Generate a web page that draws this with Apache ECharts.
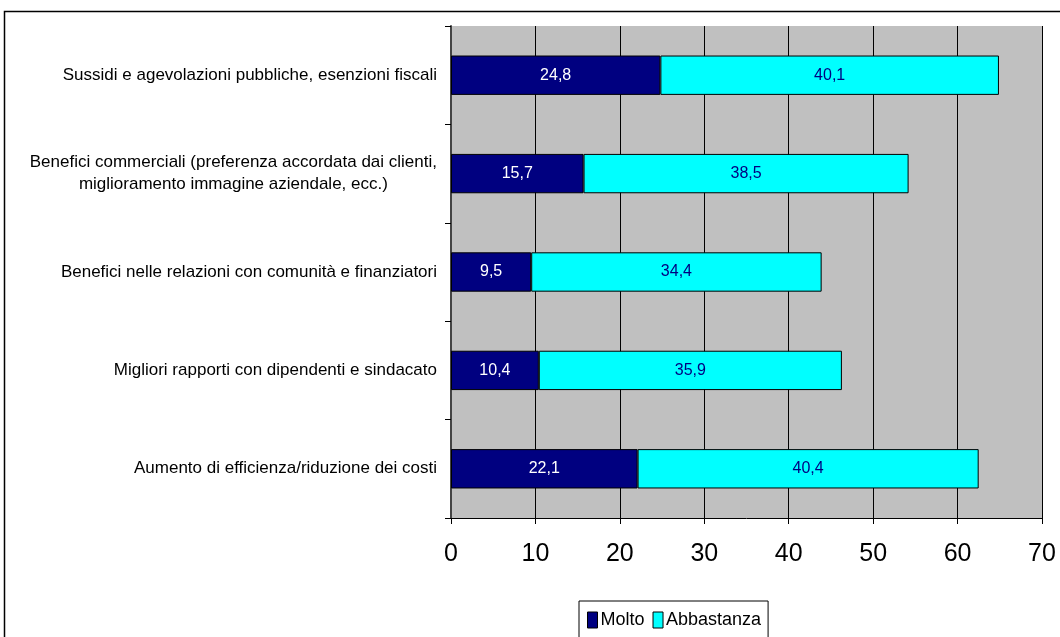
<!DOCTYPE html>
<html>
<head>
<meta charset="utf-8">
<script src="https://cdn.jsdelivr.net/npm/echarts@6/dist/echarts.min.js"></script>
<style>html,body{margin:0;padding:0;background:#fff;}#c{width:1060px;height:637px;}</style>
</head>
<body>
<div id="c"></div>
<script>
const categories = [
  "Aumento di efficienza/riduzione dei costi",
  "Migliori rapporti con dipendenti e sindacato",
  "Benefici nelle relazioni con comunità e finanziatori",
  "Benefici commerciali (preferenza accordata dai clienti,\nmiglioramento immagine aziendale, ecc.)",
  "Sussidi e agevolazioni pubbliche, esenzioni fiscali"
];
const molto = [22.1, 10.4, 9.5, 15.7, 24.8];
const abbastanza = [40.4, 35.9, 34.4, 38.5, 40.1];
const xTicks = [0, 10, 20, 30, 40, 50, 60, 70];

const fmt = v => String(v.value !== undefined ? v.value : v).replace('.', ',');
const font = '"Liberation Sans", Arial, sans-serif';

const chart = echarts.init(document.getElementById('c'));
chart.setOption({
  animation: false,
  textStyle: { fontFamily: font },
  graphic: [{
    type: 'rect', z: 100, silent: true,
    shape: { x: 4.5, y: 11.5, width: 1100, height: 700 },
    style: { fill: 'none', stroke: '#000', lineWidth: 1.5 }
  }],
  grid: { left: 451, right: 18, top: 26, bottom: 119, show: true, backgroundColor: '#C0C0C0', borderWidth: 0 },
  legend: {
    top: 601, left: 579,
    data: ['Molto', 'Abbastanza'],
    icon: 'rect',
    itemWidth: 10, itemHeight: 16, itemGap: 8,
    padding: [10, 7, 12, 8],
    borderColor: '#000', borderWidth: 1,
    textStyle: { fontSize: 18, fontFamily: font, color: '#000', padding: [0, 0, 0, -2] },
    itemStyle: { borderColor: '#000', borderWidth: 1 }
  },
  xAxis: {
    type: 'value', min: xTicks[0], max: xTicks[xTicks.length - 1], interval: 10,
    axisLine: { show: true, lineStyle: { color: '#000', width: 1 } },
    axisTick: { show: true, length: 6, lineStyle: { color: '#000' } },
    axisLabel: { fontSize: 25, color: '#000', margin: 24, fontFamily: font },
    splitLine: { show: true, lineStyle: { color: '#000', width: 1 } }
  },
  yAxis: {
    type: 'category', data: categories,
    axisLine: { show: true, lineStyle: { color: '#444', width: 2 } },
    axisTick: { show: true, length: 6, lineStyle: { color: '#000' } },
    axisLabel: {
      fontSize: 17, color: '#000', margin: 14, lineHeight: 22,
      formatter: v => v.split('\n').map(l => '{a|' + l + '}').join('\n'),
      rich: { a: { fontSize: 17, color: '#000', align: 'center', lineHeight: 22, fontFamily: font } }
    },
    splitLine: { show: false }
  },
  series: [
    {
      name: 'Molto', type: 'bar', stack: 's', data: molto, barWidth: '40%',
      itemStyle: { color: '#000080', borderColor: '#000', borderWidth: 1 },
      label: { show: true, position: 'inside', color: '#fff', fontSize: 16, fontFamily: font, formatter: fmt }
    },
    {
      name: 'Abbastanza', type: 'bar', stack: 's', data: abbastanza, barWidth: '40%',
      itemStyle: { color: '#00FFFF', borderColor: '#000', borderWidth: 1 },
      label: { show: true, position: 'inside', color: '#000080', fontSize: 16, fontFamily: font, formatter: fmt }
    }
  ]
});
</script>
</body>
</html>
